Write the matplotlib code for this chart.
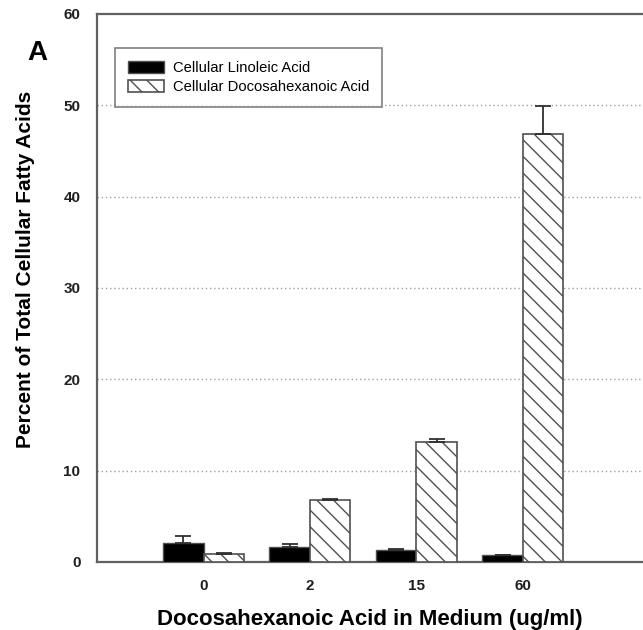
import numpy as np
import matplotlib.pyplot as plt

plt.rcParams['font.family'] = ['Liberation Sans', 'DejaVu Sans']

doses = ['0', '2', '15', '60']
linoleic = [2.1, 1.64, 1.31, 0.73]
linoleic_err = [0.75, 0.36, 0.1, 0.07]
dha = [0.87, 6.75, 13.14, 46.8]
dha_err = [0.1, 0.11, 0.33, 3.15]

x = np.arange(len(doses))
w = 0.38
edge = '#505050'

fig = plt.figure(figsize=(6.43, 6.30), dpi=100)
ax = fig.add_axes([0.151, 0.108, 0.849, 0.87])

plt.rcParams['hatch.color'] = '#404040'
plt.rcParams['hatch.linewidth'] = 1.0

ax.bar(x - w / 2, linoleic, w, color='black', edgecolor=edge, linewidth=1.0,
       label='Cellular Linoleic Acid', zorder=3)
ax.bar(x + w / 2, dha, w, color='white', edgecolor=edge, linewidth=1.2,
       hatch='\\\\', label='Cellular Docosahexanoic Acid', zorder=3)

# upward-only error bars
ax.errorbar(x - w / 2, linoleic, yerr=[np.zeros(4), linoleic_err], fmt='none',
            ecolor='#303030', elinewidth=1.3, capsize=6, capthick=1.3, zorder=4)
ax.errorbar(x + w / 2, dha, yerr=[np.zeros(4), dha_err], fmt='none',
            ecolor='#303030', elinewidth=1.3, capsize=6, capthick=1.3, zorder=4)

ax.set_xlim(-1, 4.13)
ax.set_ylim(0, 60)
ax.set_xticks(x)
ax.set_xticklabels(doses)
ax.set_yticks([0, 10, 20, 30, 40, 50, 60])

for yv in [10, 20, 30, 40, 50]:
    ax.axhline(yv, color='#a0a0a0', linestyle=(0, (1, 2)), linewidth=1.0, zorder=1)

for side in ['left', 'bottom', 'top']:
    ax.spines[side].set_color('#606060')
    ax.spines[side].set_linewidth(1.6)
ax.spines['right'].set_visible(False)

ax.tick_params(axis='both', length=0, pad=12, labelsize=11)
for lbl in ax.get_xticklabels() + ax.get_yticklabels():
    lbl.set_fontweight('bold')
    lbl.set_color('#202020')

ax.set_xlabel('Docosahexanoic Acid in Medium (ug/ml)', fontsize=16,
              fontweight='bold', labelpad=12)
ax.set_ylabel('Percent of Total Cellular Fatty Acids', fontsize=15,
              fontweight='bold')
ax.yaxis.set_label_coords(-0.113, 0.533)

leg = ax.legend(loc='upper left', bbox_to_anchor=(0.033, 0.938), fontsize=10.6,
                frameon=True, fancybox=False, handlelength=2.4,
                handleheight=0.8, handletextpad=0.6, labelspacing=0.35,
                borderpad=0.9, borderaxespad=0)
leg.get_frame().set_edgecolor('#606060')
leg.get_frame().set_linewidth(1.2)

fig.text(0.058, 0.916, 'A', fontsize=20, fontweight='bold', ha='center', va='center')

fig.savefig('out.png', dpi=100)
